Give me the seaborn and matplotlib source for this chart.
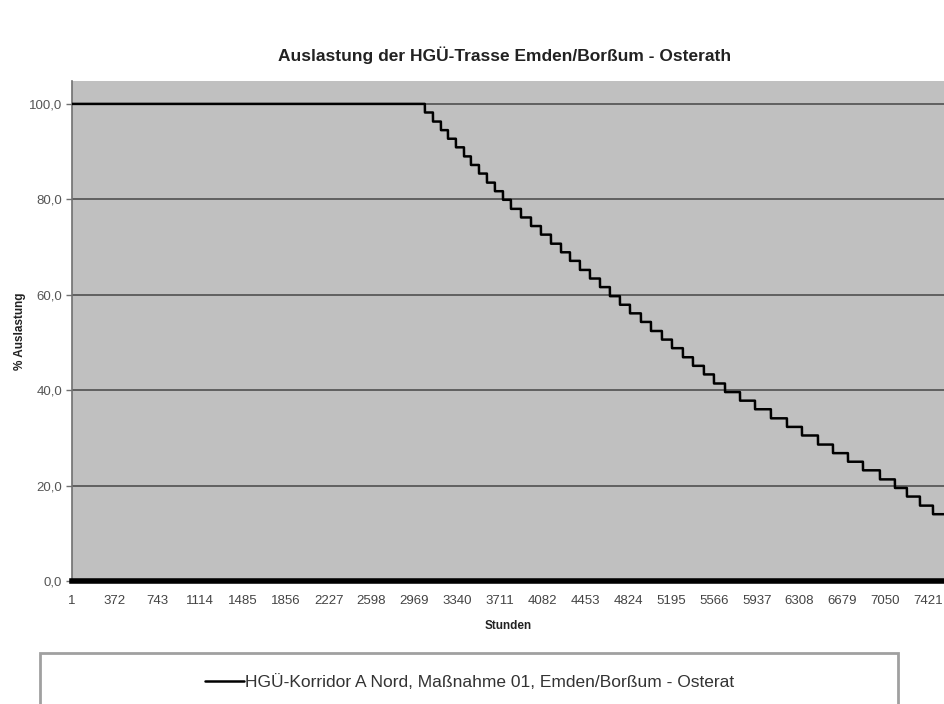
import numpy as np
import pandas as pd
import matplotlib
matplotlib.use("Agg")
import matplotlib.pyplot as plt
import seaborn as sns
from matplotlib.patches import Rectangle

# Load-duration data: utilisation level (%) and the hour at which each drop occurs
levels = [100.0, 98.2, 96.3, 94.5, 92.7, 90.9, 89.0, 87.2, 85.4, 83.5, 81.7, 79.9,
          78.0, 76.2, 74.4, 72.6, 70.7, 68.9, 67.1, 65.2, 63.4, 61.6, 59.7, 57.9,
          56.1, 54.3, 52.4, 50.6, 48.8, 46.9, 45.1, 43.3, 41.4, 39.6, 37.8, 36.0,
          34.1, 32.3, 30.5, 28.6, 26.8, 25.0, 23.2, 21.3, 19.5, 17.7, 15.8, 14.0]
drop_hours = [3061, 3131, 3200, 3261, 3330, 3400, 3460, 3530, 3599, 3668, 3738,
              3807, 3894, 3981, 4067, 4154, 4241, 4319, 4405, 4492, 4579, 4665,
              4752, 4839, 4934, 5021, 5116, 5203, 5298, 5385, 5480, 5567, 5663,
              5793, 5923, 6061, 6200, 6330, 6469, 6599, 6729, 6859, 7006, 7136,
              7240, 7353, 7466]
last_hour = 7561

x_tick_labels = ["1", "372", "743", "1114", "1485", "1856", "2227", "2598", "2969",
                 "3340", "3711", "4082", "4453", "4824", "5195", "5566", "5937",
                 "6308", "6679", "7050", "7421"]
y_ticks = [0, 20, 40, 60, 80, 100]
y_tick_labels = ["0,0", "20,0", "40,0", "60,0", "80,0", "100,0"]

title = "Auslastung der HGÜ-Trasse Emden/Borßum - Osterath"
series_label = "HGÜ-Korridor A Nord, Maßnahme 01, Emden/Borßum - Osterat"

# Expand the step levels into an hourly series
hours = np.arange(1, last_hour + 1)
idx = np.searchsorted(np.array(drop_hours), hours, side="right")
values = np.array(levels)[idx]
df = pd.DataFrame({"Stunden": hours, "Auslastung": values})

sns.set_theme(style="white")
plt.rcParams["font.family"] = ["Liberation Sans", "DejaVu Sans"]

W, H = 944, 704
fig = plt.figure(figsize=(W / 100, H / 100), dpi=100)
fig.patch.set_facecolor("white")

left, top, bottom = 72, 81, 581
ax = fig.add_axes([left / W, 1 - bottom / H, 1 - left / W, (bottom - top) / H])
ax.set_facecolor("#c0c0c0")

sns.lineplot(data=df, x="Stunden", y="Auslastung", color="black", lw=1.8,
             estimator=None, ax=ax, zorder=3, legend=False)

ax.set_xlim(1, last_hour)
ax.set_ylim(0, 104.8)

ax.set_yticks(y_ticks)
ax.set_yticklabels(y_tick_labels)
ax.yaxis.grid(True, color="#606060", lw=1.4, zorder=1)
ax.xaxis.grid(False)

tick_pos = [int(t) for t in x_tick_labels]
ax.set_xticks(tick_pos)
ax.set_xticklabels(x_tick_labels)

ax.tick_params(axis="y", which="both", left=True, length=4, width=1,
               color="#707070", labelsize=9.5, labelcolor="#555555", pad=3)
ax.tick_params(axis="x", which="both", bottom=False, length=0,
               labelsize=9.5, labelcolor="#444444", pad=10)

for s in ("top", "right"):
    ax.spines[s].set_visible(False)
ax.spines["left"].set_color("#707070")
ax.spines["left"].set_linewidth(1.2)
ax.spines["bottom"].set_color("black")
ax.spines["bottom"].set_linewidth(4)
ax.spines["bottom"].set_zorder(4)

ax.set_xlabel("")
ax.set_ylabel("")

fig.text(505 / W, 1 - 55 / H, title, ha="center", va="center",
         fontsize=12.5, fontweight="bold", color="#222222")
fig.text(508 / W, 1 - 626 / H, "Stunden", ha="center", va="center",
         fontsize=8.5, fontweight="bold", color="#222222")
fig.text(20 / W, 1 - 331 / H, "% Auslastung", ha="center", va="center",
         rotation=90, fontsize=8.5, fontweight="bold", color="#222222")

# Legend box below the chart
fig.patches.append(Rectangle((40 / W, 1 - 706 / H), (898 - 40) / W, (706 - 653) / H,
                             transform=fig.transFigure, facecolor="white",
                             edgecolor="#a0a0a0", lw=2))
handle = plt.Line2D([], [], color="black", lw=1.8)
fig.legend([handle], [series_label], loc="center", frameon=False,
           bbox_to_anchor=(470 / W, 1 - 682 / H), fontsize=12.5,
           handlelength=2.2, handletextpad=0.1, labelcolor="#333333")

fig.savefig("out.png", dpi=100, facecolor="white")
